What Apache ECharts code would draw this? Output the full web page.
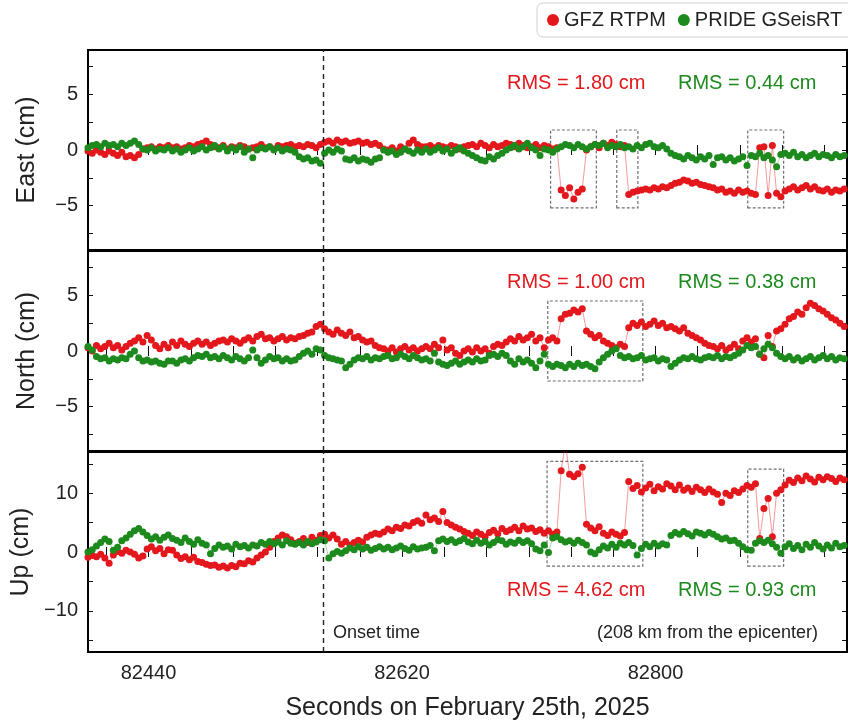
<!DOCTYPE html>
<html><head><meta charset="utf-8">
<script src="https://cdn.jsdelivr.net/npm/echarts@6/dist/echarts.min.js"></script>
<style>html,body{margin:0;padding:0;background:#fff}#c{width:848px;height:728px}</style>
</head><body><div id="c"></div>
<script>
// ---- sampling epochs (seconds on February 25th, 2025) ----
const epochStart = 82397;
const epochStep = 3;

// ---- series values (cm) ----
const eastGFZ = [
-0.1,-0.3,0.0,-0.2,-0.4,-0.1,-0.3,-0.5,-0.2,-0.6,
-0.5,-0.7,-0.4,0.1,0.2,0.3,0.1,0.3,0.2,0.4,
0.2,0.3,0.1,0.2,0.4,0.3,0.5,0.6,0.8,0.5,
0.3,0.2,0.4,0.1,0.3,0.2,0.4,0.3,0.1,0.2,
0.3,0.5,0.2,0.3,0.1,0.4,0.3,0.4,0.5,0.3,
0.4,0.3,0.5,0.4,0.2,0.5,0.7,0.8,0.6,0.9,
0.7,0.8,0.6,0.7,0.8,0.6,0.7,0.5,0.6,0.4,
0.1,0.0,0.2,-0.1,0.3,0.1,0.6,0.9,0.5,0.3,
0.3,0.4,0.2,0.4,0.3,0.2,0.4,0.3,0.1,0.3,
0.4,0.5,0.3,0.6,0.4,0.2,0.5,0.3,0.4,0.6,
0.5,0.3,0.6,0.4,0.2,0.3,0.5,0.2,0.4,0.3,0.1,0.2,
-3.6,-4.1,-3.4,-4.4,-3.8,-3.5,
0.0,0.3,0.5,0.2,0.6,0.4,0.7,0.5,0.3,0.4,
-4.0,-3.8,-3.7,-3.6,-3.5,-3.6,-3.4,-3.5,-3.3,-3.4,
-3.2,-3.0,-2.9,-2.7,-2.8,-3.0,-2.9,-3.1,-3.2,-3.3,
-3.4,-3.6,-3.5,-3.8,-3.7,-3.9,-3.6,-3.8,-3.7,-3.9,
-4.0,0.2,0.3,-4.1,0.4,-3.9,-4.2,
-3.7,-3.5,-3.3,-3.6,-3.4,-3.2,-3.5,-3.3,-3.6,-3.7,-3.5,-3.8,-3.6,-3.7,-3.5
];
const eastPRIDE = [
0.2,0.4,0.5,0.3,0.6,0.4,0.5,0.3,0.6,0.4,
0.6,0.8,0.5,0.1,0.0,0.2,-0.1,0.1,0.0,0.2,
-0.1,0.1,-0.2,0.0,0.2,-0.1,0.1,0.3,0.0,0.2,
0.4,0.1,0.3,-0.1,0.2,0.0,0.3,-0.2,0.1,-0.7,
0.0,0.2,0.1,0.3,0.0,0.2,-0.1,0.1,0.0,-0.2,
-0.6,-0.8,-0.7,-1.0,-0.9,-1.2,-0.3,0.0,-0.2,0.1,
-0.1,-0.8,-0.9,-0.7,-1.0,-0.8,-0.9,-1.1,-0.8,-0.7,
0.0,-0.2,-0.1,-0.4,-0.2,0.1,-0.1,-0.3,0.0,-0.2,
0.1,-0.2,0.0,0.2,-0.1,0.1,-0.3,0.0,0.2,-0.1,
-0.3,-0.5,-0.7,-0.9,-1.0,-0.6,-0.8,-0.5,-0.3,0.0,
0.2,0.4,0.1,0.3,0.6,0.2,0.0,-0.5,0.1,0.0,-0.2,0.1,
0.3,0.5,0.4,0.2,0.5,0.3,
0.1,0.3,0.5,0.4,0.6,0.2,0.4,0.3,0.5,0.2,
0.3,0.1,0.4,0.2,0.5,0.6,0.3,0.2,0.4,0.1,
-0.3,-0.5,-0.6,-0.8,-0.5,-0.7,-0.9,-0.6,-0.8,-0.5,
-1.3,-0.7,-0.6,-0.9,-0.7,-1.0,-0.8,-0.6,-1.4,-0.5,
-0.6,-0.3,-0.7,-0.5,-0.9,-1.5,-0.4,
-0.3,-0.5,-0.2,-0.6,-0.4,-0.7,-0.5,-0.3,-0.6,-0.4,-0.5,-0.7,-0.4,-0.6,-0.5
];
const northGFZ = [
0.3,0.0,0.5,0.2,0.4,0.7,0.3,0.5,0.1,0.4,
0.7,0.9,1.2,0.8,1.4,1.0,0.5,0.2,0.6,0.3,
0.8,0.5,0.9,0.6,0.4,0.7,0.9,0.6,0.8,0.5,
0.7,0.9,1.0,0.8,1.1,0.9,0.7,1.0,1.2,0.9,
1.3,1.5,1.1,1.2,0.9,1.1,1.3,1.0,1.2,1.1,
1.3,1.4,1.6,1.7,2.2,2.4,2.0,1.7,1.5,1.9,
1.6,1.4,1.7,1.2,1.3,1.0,0.8,0.9,0.5,0.3,
0.2,0.0,0.3,-0.1,0.2,0.4,0.1,0.3,0.0,0.2,
0.4,0.2,0.6,0.3,1.0,0.1,0.3,-0.2,-0.4,0.0,
0.2,-0.1,0.3,0.0,0.2,-0.2,0.4,0.6,0.5,0.8,
1.1,0.9,1.3,1.0,1.2,1.5,0.9,1.2,0.3,1.0,1.2,0.9,
2.9,3.3,3.4,3.7,3.5,3.8,
1.8,1.5,1.2,1.4,0.9,0.7,0.5,0.3,0.6,0.4,
2.1,2.5,2.3,2.6,2.2,2.4,2.7,2.3,2.5,2.1,
2.2,2.0,1.8,2.1,1.6,1.4,1.2,1.0,0.7,0.5,
0.4,0.2,0.5,0.1,0.3,0.6,0.2,0.9,1.2,0.8,
1.1,-0.3,-0.6,1.4,0.4,1.8,2.0,
2.4,2.9,3.1,3.5,3.3,3.9,4.3,4.1,3.8,3.6,3.3,3.0,2.8,2.5,2.2
];
const northPRIDE = [
0.4,0.1,-0.5,-0.7,-0.6,-0.9,-0.7,-0.8,-0.6,-0.7,
-0.3,0.0,-0.6,-0.9,-0.8,-1.0,-0.9,-1.1,-1.2,-0.9,
-0.9,-1.1,-0.8,-0.7,-0.9,-0.6,-0.4,-0.5,-0.3,-0.6,
-0.5,-0.7,-0.4,-0.6,-0.8,-0.5,-0.7,-0.9,-0.6,0.1,
-0.6,-1.1,-0.8,-0.5,-0.7,-0.6,-0.9,-0.7,-0.9,-0.8,
-0.5,-0.2,0.0,-0.3,0.2,0.1,-0.4,-0.6,-0.7,-0.8,
-0.9,-1.5,-1.2,-0.8,-0.6,-0.7,-0.5,-0.8,-0.6,-0.7,
-0.5,-0.4,-0.7,-0.6,-0.3,-0.5,-0.7,-0.4,-0.6,-0.8,
-0.7,-0.9,-0.2,-1.0,-1.2,-1.3,-1.1,-0.9,-1.2,-1.0,
-0.8,-1.0,-0.7,-0.9,-0.8,-0.4,-0.3,-0.5,-0.2,-0.4,
-0.9,-1.2,-0.7,-1.0,-0.8,-1.1,-1.5,-0.9,-0.3,-1.2,-1.4,-1.2,
-1.3,-1.5,-1.2,-1.4,-1.1,-1.3,
-1.2,-1.4,-1.6,-1.0,-0.6,-0.3,0.0,0.2,-0.4,-0.6,
-0.5,-0.7,-0.6,-0.4,-0.8,-0.7,-0.6,-0.9,-0.7,-0.8,
-1.4,-1.1,-0.8,-0.6,-0.7,-0.5,-0.7,-0.8,-0.6,-0.5,
-0.6,-0.4,-0.7,-0.5,-0.6,-0.4,-0.2,0.1,0.5,0.3,
0.4,-0.3,0.2,0.6,0.3,-0.2,-0.5,
-0.7,-0.5,-0.8,-0.6,-0.9,-0.7,-0.5,-0.8,-0.6,-0.4,-0.7,-0.5,-0.8,-0.6,-0.7
];
const upGFZ = [
-0.9,-0.6,-0.8,-0.4,-1.0,-1.9,-0.5,0.1,-0.2,0.3,
0.0,-0.4,-1.0,-0.7,0.5,0.9,0.2,0.6,-0.3,0.4,
0.3,-0.5,-1.1,-0.8,-1.3,-0.9,-1.6,-1.8,-2.1,-2.3,
-2.2,-2.6,-2.4,-2.7,-2.3,-2.5,-1.9,-2.0,-1.5,-1.7,
-1.0,-0.5,0.0,0.8,1.8,2.4,2.9,2.6,2.1,1.5,
1.8,2.3,1.6,2.5,2.0,2.8,3.0,2.4,2.9,2.2,
1.3,1.8,1.2,1.6,2.0,1.7,2.5,2.9,3.2,3.0,
3.4,3.9,3.6,4.2,4.0,4.6,4.4,5.0,5.3,4.9,
6.3,5.5,5.8,5.2,6.9,5.0,4.6,4.2,3.9,3.5,
3.2,2.8,3.4,3.0,2.6,3.3,3.7,3.1,4.0,3.5,
3.8,4.2,3.6,4.4,3.9,4.1,3.5,3.8,3.2,3.6,3.0,3.4,
13.8,18.5,13.2,12.8,13.3,14.4,
4.7,4.1,3.6,4.3,3.2,2.8,3.4,3.0,2.7,3.3,
12.0,10.8,11.3,10.2,10.9,11.5,10.4,11.1,10.7,11.6,
11.2,10.6,11.4,10.5,10.9,10.3,11.0,10.6,10.1,10.7,
10.2,9.8,8.4,10.0,9.6,10.4,10.1,10.7,11.3,11.0,
11.6,2.3,7.4,9.1,2.6,10.0,10.6,
11.4,12.2,11.8,12.6,12.1,12.9,12.4,11.9,12.7,12.3,12.8,12.5,12.0,12.6,12.3
];
const upPRIDE = [
0.0,0.4,1.0,1.6,2.2,1.8,0.3,0.8,1.9,2.4,
3.0,3.6,4.0,3.4,2.8,2.2,2.6,2.0,2.5,2.9,
2.3,2.0,1.6,2.4,1.8,1.3,2.1,1.5,1.2,-0.3,
0.6,1.2,0.8,1.0,0.5,1.3,0.9,1.1,0.7,1.2,
1.0,1.6,1.3,1.8,1.4,1.7,1.2,1.9,1.5,1.3,
1.6,1.2,1.8,1.4,1.7,2.1,1.9,-1.0,-0.3,0.1,
-0.2,0.2,0.7,0.4,0.9,0.5,0.8,0.3,0.6,0.9,
0.5,0.8,0.4,0.7,1.0,0.6,0.3,0.9,0.5,0.7,
0.8,1.1,0.2,1.9,2.2,1.8,2.1,1.6,1.9,2.3,
1.7,1.4,2.0,1.5,1.8,1.2,1.6,2.1,1.9,1.3,
1.7,1.5,2.0,1.6,1.9,1.4,0.5,0.2,1.2,-0.1,2.4,2.6,
2.1,1.7,1.9,1.5,2.0,1.6,
1.2,0.0,-0.3,0.4,1.0,0.7,1.3,0.8,1.5,1.2,
1.6,1.1,-0.5,0.6,1.3,0.9,1.5,1.0,1.4,1.2,
2.8,3.3,3.0,3.5,3.1,2.7,3.4,3.2,2.9,3.3,
3.0,2.6,2.2,2.4,1.9,2.0,1.5,0.9,0.4,0.3,
1.5,1.9,1.6,2.0,1.4,0.8,-0.2,
0.9,1.4,0.6,1.1,0.4,1.3,0.8,1.6,1.0,0.5,1.2,0.7,1.5,0.9,1.1
];

// ---- axes / ticks ----
const xMin = 82397, xMax = 82936;
const xLabelValues = [82440, 82620, 82800];
const xTickValues = [82410,82440,82470,82500,82530,82560,82590,82620,82650,82680,82710,82740,82770,82800,82830,82860,82890,82920];
const enLabelValues = [-5, 0, 5];
const enTickValues = [-7.5, -5, -2.5, 0, 2.5, 5, 7.5];
const upLabelValues = [-10, 0, 10];
const upTickValues = [-15, -10, -5, 0, 5, 10, 15];
const onsetTime = 82564;

// ---- annotation boxes [x0, y0, x1, y1] in data units ----
const eastBoxes = [[82725.5, -5.2, 82758, 1.8], [82772.5, -5.2, 82787.5, 1.8], [82865.5, -5.2, 82891, 1.8]];
const northBoxes = [[82723.5, -2.7, 82791, 4.5]];
const upBoxes = [[82723, -2.4, 82791, 15.4], [82865.5, -2.4, 82891, 14.1]];

const seriesNames = ['GFZ RTPM', 'PRIDE GSeisRT'];
const panelNames = ['East (cm)', 'North (cm)', 'Up (cm)'];
const rmsGFZ = ['1.80', '1.00', '4.62'];
const rmsPRIDE = ['0.44', '0.38', '0.93'];

const RED = '#e3171c', GREEN = '#1c8a1c';
const FONT = 'Liberation Sans, Arial, Helvetica, sans-serif';

const times = eastGFZ.map((_, i) => epochStart + epochStep * i);
const pairs = arr => arr.map((v, i) => [times[i], v]);

const panels = [
  {gfz: eastGFZ, pride: eastPRIDE, min: -9, max: 9, labels: enLabelValues, ticks: enTickValues, boxes: eastBoxes},
  {gfz: northGFZ, pride: northPRIDE, min: -9, max: 9, labels: enLabelValues, ticks: enTickValues, boxes: northBoxes},
  {gfz: upGFZ, pride: upPRIDE, min: -17, max: 17, labels: upLabelValues, ticks: upTickValues, boxes: upBoxes}
];
const tops = [50, 251, 452];
const rmsY = [83, 282, 590];

const grid = [], xAxis = [], yAxis = [], series = [], graphic = [];
const minus = v => String(v).replace('-', '\u2212');

panels.forEach((p, k) => {
  grid.push({left: 88, right: 1, top: tops[k], height: 200, show: true, borderColor: '#000', borderWidth: 2, backgroundColor: 'rgba(0,0,0,0)'});
  const tick = {show: true, inside: true, length: 5, customValues: xTickValues, lineStyle: {color: '#111', width: 1}};
  xAxis.push({
    gridIndex: k, type: 'value', min: xMin, max: xMax, position: 'bottom',
    axisLine: {show: false}, splitLine: {show: false}, axisTick: tick,
    axisLabel: k === 2 ? {show: true, customValues: xLabelValues, fontSize: 20, color: '#222', margin: 11, fontFamily: FONT, formatter: v => String(v)} : {show: false},
    name: k === 2 ? 'Seconds on February 25th, 2025' : '', nameLocation: 'middle', nameGap: 44,
    nameTextStyle: {fontSize: 25, color: '#222', fontFamily: FONT}
  });
  xAxis.push({
    gridIndex: k, type: 'value', min: xMin, max: xMax, position: 'top',
    axisLine: {show: false}, splitLine: {show: false}, axisTick: tick, axisLabel: {show: false}
  });
  const ytick = {show: true, inside: true, length: 5, customValues: p.ticks, lineStyle: {color: '#111', width: 1}};
  yAxis.push({
    gridIndex: k, type: 'value', min: p.min, max: p.max, position: 'left',
    axisLine: {show: false}, splitLine: {show: false}, axisTick: ytick,
    axisLabel: {show: true, customValues: p.labels, fontSize: 20, color: '#222', margin: 10, fontFamily: FONT, formatter: minus},
    name: panelNames[k], nameLocation: 'middle', nameGap: 48,
    nameTextStyle: {fontSize: 25, color: '#222', fontFamily: FONT}
  });
  yAxis.push({
    gridIndex: k, type: 'value', min: p.min, max: p.max, position: 'right',
    axisLine: {show: false}, splitLine: {show: false}, axisTick: ytick, axisLabel: {show: false}
  });
  series.push({
    name: seriesNames[0], type: 'line', xAxisIndex: 2 * k, yAxisIndex: 2 * k,
    data: pairs(p.gfz), symbol: 'circle', symbolSize: 7, showSymbol: true, showAllSymbol: true,
    itemStyle: {color: RED}, lineStyle: {color: 'rgba(227,23,28,0.55)', width: 0.8}, clip: true, z: 2,
    markArea: {
      silent: true,
      itemStyle: {color: 'rgba(0,0,0,0)', borderColor: '#707070', borderWidth: 1.2, borderType: [3, 2]},
      data: p.boxes.map(b => [{xAxis: b[0], yAxis: b[1]}, {xAxis: b[2], yAxis: b[3]}])
    }
  });
  series.push({
    name: seriesNames[1], type: 'line', xAxisIndex: 2 * k, yAxisIndex: 2 * k,
    data: pairs(p.pride), symbol: 'circle', symbolSize: 7, showSymbol: true, showAllSymbol: true,
    itemStyle: {color: GREEN}, lineStyle: {color: 'rgba(28,138,28,0.45)', width: 0.8}, clip: true, z: 3,
    markLine: {
      silent: true, symbol: ['none', 'none'], label: {show: false},
      lineStyle: {color: '#222', type: [5, 4], width: 1.4},
      data: [{xAxis: onsetTime}]
    }
  });
  graphic.push({type: 'text', x: 507, y: rmsY[k], style: {text: 'RMS = ' + rmsGFZ[k] + ' cm', fill: RED, fontSize: 20, fontFamily: FONT, verticalAlign: 'middle'}});
  graphic.push({type: 'text', x: 678, y: rmsY[k], style: {text: 'RMS = ' + rmsPRIDE[k] + ' cm', fill: GREEN, fontSize: 20, fontFamily: FONT, verticalAlign: 'middle'}});
});
graphic.push({type: 'text', x: 333, y: 633, style: {text: 'Onset time', fill: '#222', fontSize: 18, fontFamily: FONT, verticalAlign: 'middle'}});
graphic.push({type: 'text', x: 597, y: 633, style: {text: '(208 km from the epicenter)', fill: '#222', fontSize: 18, fontFamily: FONT, verticalAlign: 'middle'}});

const chart = echarts.init(document.getElementById('c'), null, {renderer: 'canvas'});
chart.setOption({
  animation: false,
  backgroundColor: '#fff',
  legend: {
    data: seriesNames, left: 537, top: 3, width: 340, orient: 'horizontal', icon: 'circle', itemWidth: 12, itemHeight: 12, itemGap: 12,
    padding: [7, 12, 7, 10], backgroundColor: '#fff', borderColor: '#d0d0d0', borderWidth: 1, borderRadius: 6,
    textStyle: {fontSize: 20, color: '#222', fontFamily: FONT}
  },
  grid, xAxis, yAxis, series, graphic
});
</script>
</body></html>
